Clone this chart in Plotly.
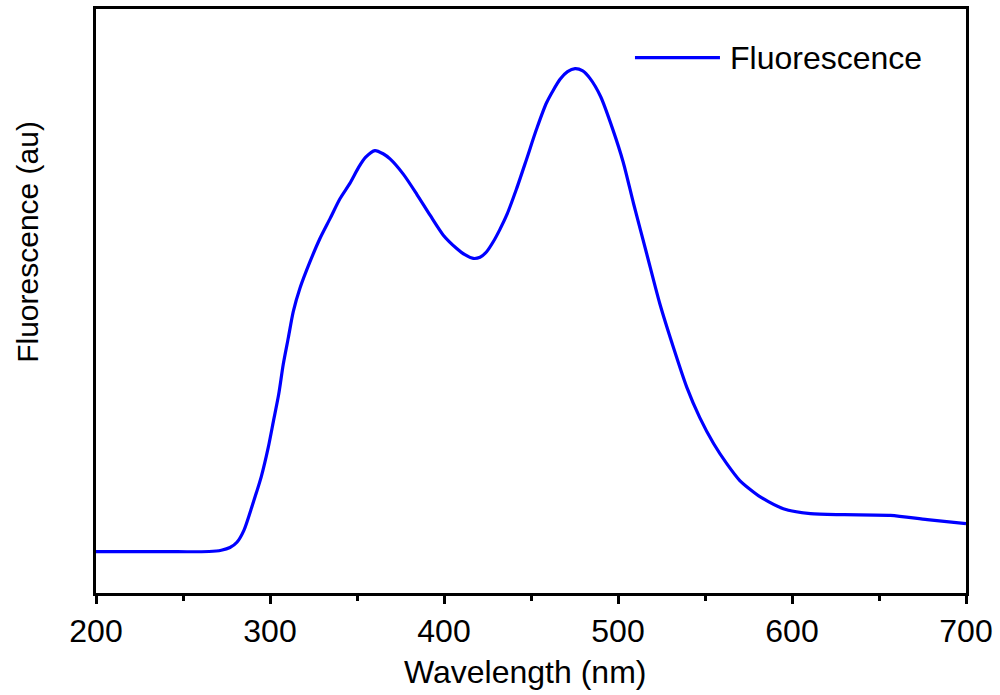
import plotly.graph_objects as go

# Emission spectrum (arbitrary units)
wavelength = [200, 240, 265, 272, 277, 281, 285, 290, 295, 299, 302, 305, 307.6, 310.5,
              313.4, 317.2, 323, 328.7, 334.5, 340.2, 346, 351, 355, 360.3, 365,
              369, 376.6, 384.3, 392, 399.6, 407.3, 412, 416.8, 420.7, 424.5, 428.3,
              432, 436, 441.7, 447.5, 453.2, 459, 466.7, 471, 475.3, 479.5, 484, 490,
              497, 503, 509, 516.5, 524, 532, 539.5, 547, 555, 562.5, 570, 576, 582,
              595, 610.6, 630, 656.6, 677.7, 700]
fluorescence = [41.5, 41.5, 41.7, 43.0, 45.7, 51.0, 63.0, 89.0, 117.0, 146.3, 173.0,
                199.7, 229.7, 256.3, 283.0, 306.3, 333.0, 356.3, 376.3, 396.3, 412.0,
                428.0, 438.0, 444.7, 441.5, 436.3, 421.0, 401.0, 379.7, 359.7, 346.3,
                340.0, 336.3, 337.5, 343.0, 353.0, 365.0, 379.7, 406.3, 436.3, 466.3,
                493.0, 516.3, 524.0, 527.0, 525.0, 517.0, 499.0, 466.0, 433.0, 391.0,
                341.0, 291.0, 246.0, 207.0, 176.3, 150.0, 130.0, 113.0, 104.0, 96.3,
                84.7, 79.7, 78.7, 78.0, 73.7, 69.7]

x_ticks = [200, 300, 400, 500, 600, 700]
series_name = "Fluorescence"
x_title = "Wavelength (nm)"
y_title = "Fluorescence (au)"

BLUE = "#0000FF"
FONT = "Liberation Sans, Arial, sans-serif"

fig = go.Figure()
fig.add_trace(go.Scatter(
    x=wavelength, y=fluorescence, mode="lines", name=series_name,
    line=dict(color=BLUE, width=3.2, shape="spline", smoothing=0.7),
    showlegend=False,
))

fig.update_layout(
    width=1000, height=695,
    margin=dict(l=96, r=34, t=6, b=102),
    paper_bgcolor="white", plot_bgcolor="white",
    font=dict(family=FONT, color="black"),
    xaxis=dict(
        range=[200, 700], tickvals=x_ticks, ticktext=[str(v) for v in x_ticks],
        showgrid=False, zeroline=False,
        showline=True, linecolor="black", linewidth=2.5, mirror=True,
        ticks="outside", ticklen=8, tickwidth=2.5, tickcolor="black",
        tickfont=dict(size=32, family=FONT),
        minor=dict(dtick=50, tick0=200, ticks="outside", ticklen=5,
                   tickwidth=2.5, tickcolor="black", showgrid=False),
    ),
    yaxis=dict(
        range=[0, 587], showticklabels=False, ticks="",
        showgrid=False, zeroline=False,
        showline=True, linecolor="black", linewidth=2.5, mirror=True,
    ),
)

# Legend entry: sample line and label
fig.add_shape(type="line", xref="paper", yref="paper",
              x0=0.6195, x1=0.7172, y0=0.9166, y1=0.9166,
              line=dict(color=BLUE, width=3.2))
fig.add_annotation(text=series_name, xref="paper", yref="paper",
                   x=0.7264, y=0.9166, xanchor="left", yanchor="middle",
                   showarrow=False, font=dict(size=32, family=FONT))

# Axis titles
fig.add_annotation(text=x_title, xref="paper", yref="paper",
                   x=(525 - 96) / 870, y=-(672 - 593) / 587,
                   xanchor="center", yanchor="middle", showarrow=False,
                   font=dict(size=32, family=FONT))
fig.add_annotation(text=y_title, xref="paper", yref="paper",
                   x=-(96 - 28) / 870, y=(593 - 240) / 587,
                   xanchor="center", yanchor="middle", textangle=-90,
                   showarrow=False, font=dict(size=30, family=FONT))

fig.write_html("out.html")
